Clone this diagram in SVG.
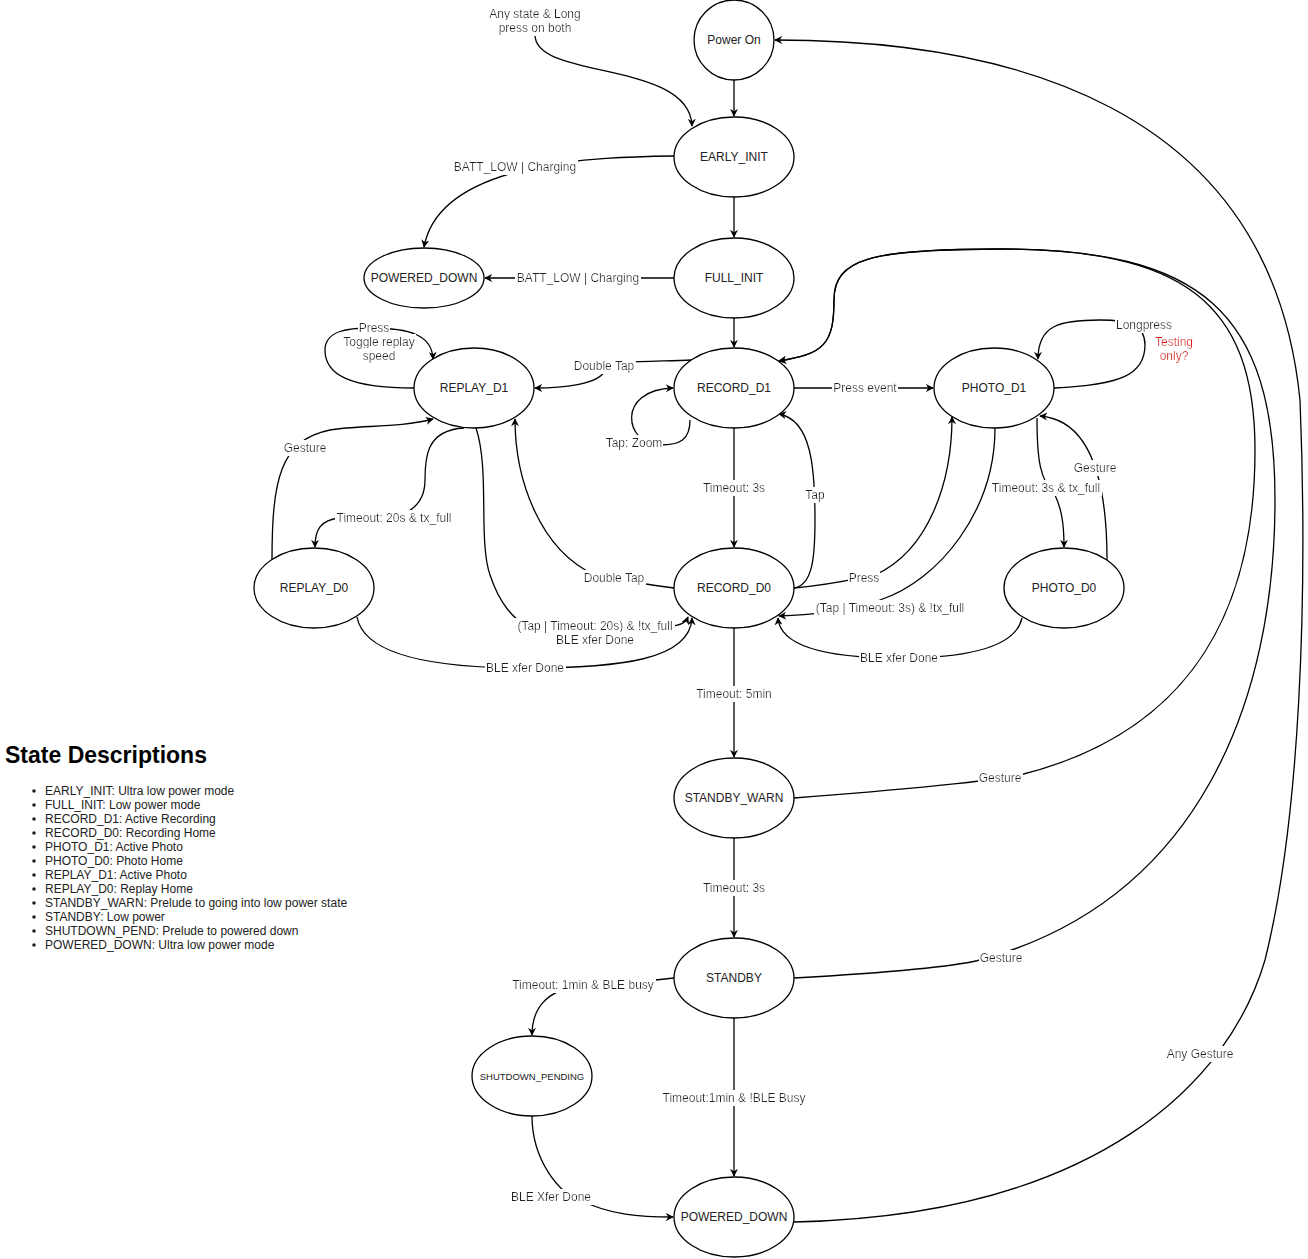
<svg xmlns="http://www.w3.org/2000/svg" width="1308" height="1259" viewBox="0 0 1308 1259">
<style>
.n{fill:#fff;stroke:#000;stroke-width:1.3}
.t{font-family:"Liberation Sans",Arial,sans-serif;font-size:12px;fill:#222;text-anchor:middle;dominant-baseline:central}
.e{fill:none;stroke:#000;stroke-width:1.3;marker-end:url(#a)}
.l{font-family:"Liberation Sans",Arial,sans-serif;font-size:12px;fill:#222;text-anchor:middle;dominant-baseline:central;filter:url(#bg)}
.d{font-family:"Liberation Sans",Arial,sans-serif;font-size:12px;fill:#222}
</style>
<defs>
<marker id="a" viewBox="0 0 10 10" refX="9" refY="5" markerWidth="8" markerHeight="8" orient="auto" markerUnits="userSpaceOnUse"><path d="M0,0 L10,5 L0,10 L3,5 Z" fill="#000"/></marker>
<filter id="bg" x="-0.01" y="-0.05" width="1.02" height="1.1"><feFlood flood-color="#fff"/><feMerge><feMergeNode/><feMergeNode in="SourceGraphic"/></feMerge></filter>
</defs>
<rect width="1308" height="1259" fill="#fff"/>
<g id="connectors">
<path class="e" d="M535,35 C535,80 690,60 692,126"/>
<path class="e" d="M734,80 L734,116"/>
<path class="e" d="M734,197 L734,237"/>
<path class="e" d="M674,156 C600,157 440,160 424,247"/>
<path class="e" d="M674,278 L485,278"/>
<path class="e" d="M734,318 L734,347"/>
<path class="e" d="M692,360 C650,362 610,360 605,370 C600,385 560,388 535,388"/>
<path class="e" d="M690,420 C690,440 680,445 660,445 C625,445 615,390 673,388"/>
<path class="e" d="M794,388 L933,388"/>
<path class="e" d="M1054,388 C1120,385 1145,375 1145,345 C1145,325 1130,320 1100,320 C1060,320 1038,325 1038,359"/>
<path class="e" d="M734,428 L734,547"/>
<path class="e" d="M794,588 C812,585 815,560 815,520 C815,470 812,420 779,414"/>
<path class="e" d="M794,588 C830,585 850,580 875,575 C930,550 952,480 952,417"/>
<path class="e" d="M995,428 C995,510 940,580 880,600 C840,612 810,615 779,616"/>
<path class="e" d="M1037,418 C1037,460 1040,480 1055,495 C1062,510 1064,525 1064,547"/>
<path class="e" d="M1107,560 C1107,480 1090,420 1040,416"/>
<path class="e" d="M1022,618 C1015,650 960,658 900,658 C820,658 780,645 778,618"/>
<path class="e" d="M674,588 C650,585 620,580 595,575 C540,550 515,480 515,419"/>
<path class="e" d="M476,428 C490,470 478,540 490,575 C500,605 515,620 525,624 L670,626 C680,626 686,622 688,617"/>
<path class="e" d="M357,617 C365,660 450,668 525,668 C620,668 690,660 692,618"/>
<path class="e" d="M464,428 C425,430 425,460 425,480 C425,510 400,518 380,518 L340,518 C320,520 315,530 315,547"/>
<path class="e" d="M272,560 C272,480 280,440 330,430 C360,425 400,428 433,419"/>
<path class="e" d="M414,388 C350,388 325,375 325,350 C325,330 350,328 370,328 C410,328 432,335 433,359"/>
<path class="e" d="M734,628 L734,757"/>
<path class="e" d="M734,838 L734,937"/>
<path class="e" d="M794,798 C900,790 1000,780 1020,775 C1200,730 1255,600 1255,450 C1255,300 1180,249 1000,249 C870,249 834,259 834,300 C834,344 824,354 779,361"/>
<path class="e" d="M794,978 C900,972 960,965 980,960 C1200,900 1275,700 1275,500 C1275,310 1200,249 1000,249 C870,249 834,259 834,300 C834,344 824,354 779,361"/>
<path class="e" d="M674,978 C640,982 600,985 580,986 C545,990 532,1010 532,1035"/>
<path class="e" d="M734,1018 L734,1176"/>
<path class="e" d="M532,1116 C532,1160 560,1195 580,1200 C610,1215 640,1217 673,1217"/>
<path class="e" d="M794,1222 C1100,1215 1230,1080 1265,960 C1300,820 1308,600 1300,400 C1270,100 1000,40 775,40"/>
</g>
<g id="labels">
<text class="l" x="535" y="14">Any state &amp; Long</text>
<text class="l" x="535" y="28">press on both</text>
<text class="l" x="515" y="167">BATT_LOW | Charging</text>
<text class="l" x="578" y="278">BATT_LOW | Charging</text>
<text class="l" x="604" y="366">Double Tap</text>
<text class="l" x="634" y="443">Tap: Zoom</text>
<text class="l" x="865" y="388">Press event</text>
<text class="l" x="1144" y="325">Longpress</text>
<text class="l" x="1174" y="342" style="fill:#e01010">Testing</text>
<text class="l" x="1174" y="356" style="fill:#e01010">only?</text>
<text class="l" x="734" y="488">Timeout: 3s</text>
<text class="l" x="815" y="495">Tap</text>
<text class="l" x="864" y="578">Press</text>
<text class="l" x="890" y="608">(Tap | Timeout: 3s) &amp; !tx_full</text>
<text class="l" x="1046" y="488">Timeout: 3s &amp; tx_full</text>
<text class="l" x="1095" y="468">Gesture</text>
<text class="l" x="899" y="658">BLE xfer Done</text>
<text class="l" x="614" y="578">Double Tap</text>
<text class="l" x="595" y="626">(Tap | Timeout: 20s) &amp; !tx_full</text>
<text class="l" x="595" y="640">BLE xfer Done</text>
<text class="l" x="525" y="668">BLE xfer Done</text>
<text class="l" x="394" y="518">Timeout: 20s &amp; tx_full</text>
<text class="l" x="305" y="448">Gesture</text>
<text class="l" x="374" y="328">Press</text>
<text class="l" x="379" y="342">Toggle replay</text>
<text class="l" x="379" y="356">speed</text>
<text class="l" x="734" y="694">Timeout: 5min</text>
<text class="l" x="734" y="888">Timeout: 3s</text>
<text class="l" x="1000" y="778">Gesture</text>
<text class="l" x="1001" y="958">Gesture</text>
<text class="l" x="583" y="985">Timeout: 1min &amp; BLE busy</text>
<text class="l" x="734" y="1098">Timeout:1min &amp; !BLE Busy</text>
<text class="l" x="551" y="1197">BLE Xfer Done</text>
<text class="l" x="1200" y="1054">Any Gesture</text>
</g>
<g id="power_on"><circle class="n" cx="734" cy="40" r="40"/><text class="t" x="734" y="40">Power On</text></g>
<g id="early_init"><ellipse class="n" cx="734" cy="157" rx="60" ry="40"/><text class="t" x="734" y="157">EARLY_INIT</text></g>
<g id="full_init"><ellipse class="n" cx="734" cy="278" rx="60" ry="40"/><text class="t" x="734" y="278">FULL_INIT</text></g>
<g id="powered_down_top"><ellipse class="n" cx="424" cy="278" rx="60" ry="30"/><text class="t" x="424" y="278">POWERED_DOWN</text></g>
<g id="record_d1"><ellipse class="n" cx="734" cy="388" rx="60" ry="40"/><text class="t" x="734" y="388">RECORD_D1</text></g>
<g id="replay_d1"><ellipse class="n" cx="474" cy="388" rx="60" ry="40"/><text class="t" x="474" y="388">REPLAY_D1</text></g>
<g id="photo_d1"><ellipse class="n" cx="994" cy="388" rx="60" ry="40"/><text class="t" x="994" y="388">PHOTO_D1</text></g>
<g id="replay_d0"><ellipse class="n" cx="314" cy="588" rx="60" ry="40"/><text class="t" x="314" y="588">REPLAY_D0</text></g>
<g id="record_d0"><ellipse class="n" cx="734" cy="588" rx="60" ry="40"/><text class="t" x="734" y="588">RECORD_D0</text></g>
<g id="photo_d0"><ellipse class="n" cx="1064" cy="588" rx="60" ry="40"/><text class="t" x="1064" y="588">PHOTO_D0</text></g>
<g id="standby_warn"><ellipse class="n" cx="734" cy="798" rx="60" ry="40"/><text class="t" x="734" y="798">STANDBY_WARN</text></g>
<g id="standby"><ellipse class="n" cx="734" cy="978" rx="60" ry="40"/><text class="t" x="734" y="978">STANDBY</text></g>
<g id="shutdown_pending"><ellipse class="n" cx="532" cy="1076" rx="60" ry="40"/><text class="t" x="532" y="1076" style="font-size:9.5px">SHUTDOWN_PENDING</text></g>
<g id="powered_down"><ellipse class="n" cx="734" cy="1217" rx="60" ry="40"/><text class="t" x="734" y="1217">POWERED_DOWN</text></g>
<g id="descriptions">
<text x="5" y="763" style="font-family:'Liberation Sans',Arial,sans-serif;font-size:23px;font-weight:bold;fill:#000">State Descriptions</text>
<g fill="#222"><circle cx="34" cy="791" r="1.8"/><circle cx="34" cy="805" r="1.8"/><circle cx="34" cy="819" r="1.8"/><circle cx="34" cy="833" r="1.8"/><circle cx="34" cy="847" r="1.8"/><circle cx="34" cy="861" r="1.8"/><circle cx="34" cy="875" r="1.8"/><circle cx="34" cy="889" r="1.8"/><circle cx="34" cy="903" r="1.8"/><circle cx="34" cy="917" r="1.8"/><circle cx="34" cy="931" r="1.8"/><circle cx="34" cy="945" r="1.8"/></g>
<text class="d" x="45" y="795">EARLY_INIT: Ultra low power mode</text>
<text class="d" x="45" y="809">FULL_INIT: Low power mode</text>
<text class="d" x="45" y="823">RECORD_D1: Active Recording</text>
<text class="d" x="45" y="837">RECORD_D0: Recording Home</text>
<text class="d" x="45" y="851">PHOTO_D1: Active Photo</text>
<text class="d" x="45" y="865">PHOTO_D0: Photo Home</text>
<text class="d" x="45" y="879">REPLAY_D1: Active Photo</text>
<text class="d" x="45" y="893">REPLAY_D0: Replay Home</text>
<text class="d" x="45" y="907">STANDBY_WARN: Prelude to going into low power state</text>
<text class="d" x="45" y="921">STANDBY: Low power</text>
<text class="d" x="45" y="935">SHUTDOWN_PEND: Prelude to powered down</text>
<text class="d" x="45" y="949">POWERED_DOWN: Ultra low power mode</text>
</g>
</svg>
